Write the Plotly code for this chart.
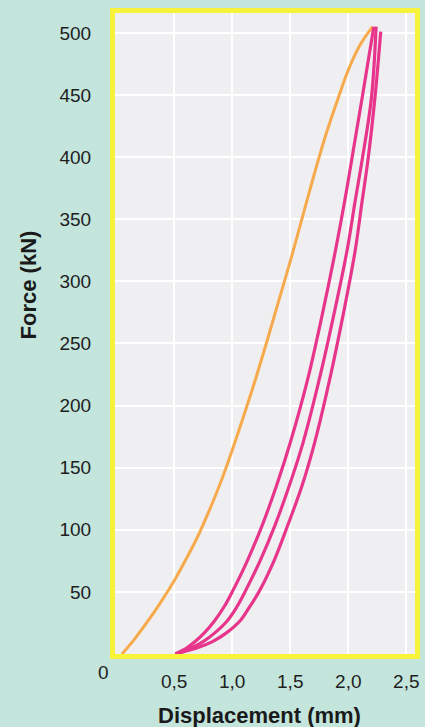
import plotly.graph_objects as go

# First loading curve (orange): displacement in mm, force in kN
load_disp = [0.05, 0.15, 0.30, 0.40, 0.50, 0.60, 0.70, 0.80, 0.90, 1.00, 1.10,
             1.20, 1.30, 1.40, 1.50, 1.60, 1.70, 1.80, 1.90, 2.00, 2.10, 2.21]
load_force = [0, 11, 30, 44, 59, 76, 94, 115, 138, 164, 192,
              221, 252, 284, 316, 350, 384, 416, 444, 470, 490, 505]

# Repeated cycles (pink), sampled at common force levels
cycle_force = [0, 5, 10, 17, 27, 38, 50, 75, 104, 135, 170, 221, 275, 325, 365, 398, 448]
cycle1_disp = [0.51, 0.61, 0.68, 0.76, 0.85, 0.93, 1.00, 1.13, 1.26, 1.38, 1.50, 1.65,
               1.78, 1.89, 1.97, 2.03, 2.12]
cycle2_disp = [0.51, 0.65, 0.75, 0.85, 0.96, 1.04, 1.11, 1.24, 1.37, 1.49, 1.61, 1.75,
               1.88, 1.99, 2.06, 2.12, 2.20]
cycle3_disp = [0.51, 0.70, 0.83, 0.95, 1.07, 1.15, 1.23, 1.36, 1.48, 1.60, 1.71, 1.84,
               1.96, 2.06, 2.12, 2.17, 2.23]
peak_disp = [2.22, 2.24, 2.28]
peak_force = [505, 505, 501]

x_ticks = [0.5, 1.0, 1.5, 2.0, 2.5]
x_ticktext = ["0,5", "1,0", "1,5", "2,0", "2,5"]
y_ticks = [50, 100, 150, 200, 250, 300, 350, 400, 450, 500]

ORANGE = "#f6aa4c"
PINK = "#e8358c"
YELLOW = "#f7f23a"
BG = "#c4e5dc"
FONT = "Liberation Sans, Arial, sans-serif"

fig = go.Figure()

fig.add_trace(go.Scatter(
    x=load_disp, y=load_force, mode="lines",
    line=dict(color=ORANGE, width=3, shape="spline", smoothing=1.0),
    showlegend=False,
))

for disp, px, pf in zip([cycle1_disp, cycle2_disp, cycle3_disp], peak_disp, peak_force):
    fig.add_trace(go.Scatter(
        x=disp + [px], y=cycle_force + [pf], mode="lines",
        line=dict(color=PINK, width=3.2, shape="spline", smoothing=1.0),
        showlegend=False,
    ))

axis_common = dict(
    showline=True, linecolor=YELLOW, linewidth=5, mirror=True,
    showgrid=True, gridcolor="#ffffff", gridwidth=2,
    zeroline=False, ticks="outside", tickcolor="rgba(0,0,0,0)",
    tickfont=dict(family=FONT, size=19, color="#1e1e1e"),
)

fig.update_xaxes(range=[-0.01, 2.575], tickvals=x_ticks, ticktext=x_ticktext,
                 ticklen=6, **axis_common)
fig.update_yaxes(range=[0, 516], tickvals=y_ticks, ticklen=15, **axis_common)

fig.update_layout(
    width=425, height=727,
    margin=dict(l=115, r=5, t=13, b=73),
    paper_bgcolor=BG, plot_bgcolor="#efeff1",
    annotations=[
        dict(text="0", xref="paper", yref="paper", x=(103 - 115) / 305, y=(654 - 672) / 641,
             xanchor="center", yanchor="middle", showarrow=False,
             font=dict(family=FONT, size=19, color="#1e1e1e")),
        dict(text="<b>Displacement (mm)</b>", xref="paper", yref="paper",
             x=(262 - 115) / 305, y=(654 - 715) / 641,
             xanchor="center", yanchor="middle", showarrow=False,
             font=dict(family=FONT, size=22, color="#1a1a1a")),
        dict(text="<b>Force (kN)</b>", xref="paper", yref="paper",
             x=(27 - 115) / 305, y=(654 - 285) / 641, textangle=-90,
             xanchor="center", yanchor="middle", showarrow=False,
             font=dict(family=FONT, size=22, color="#1a1a1a")),
    ],
)

fig.write_html("out.html")
